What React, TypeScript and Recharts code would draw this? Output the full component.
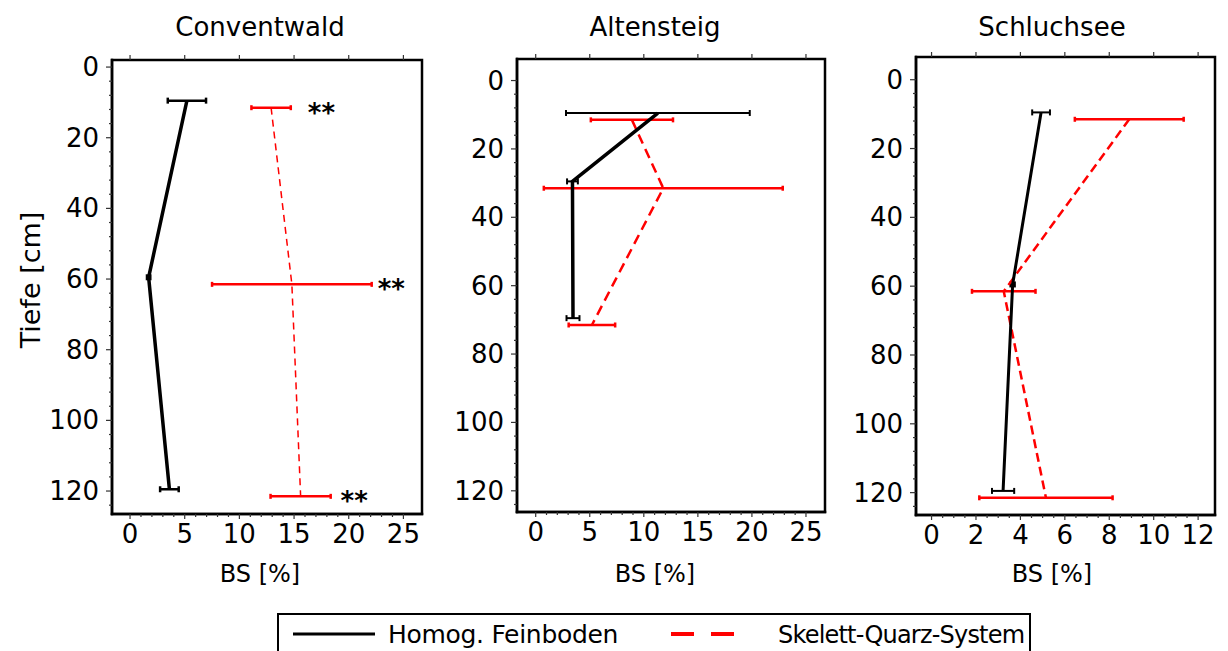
import { ScatterChart, Scatter, XAxis, YAxis, ErrorBar, ReferenceArea } from "recharts";

const FONT = "'DejaVu Sans', sans-serif";

// Conventwald: depth [cm], base saturation BS [%], half width of error bar
const cwFeinDepth = [9.5, 59.5, 119.5];
const cwFeinBs = [5.2, 1.7, 3.6];
const cwFeinErr = [1.75, 0.15, 0.85];
const cwSkelDepth = [11.5, 61.5, 121.5];
const cwSkelBs = [12.9, 14.8, 15.6];
const cwSkelErr = [1.8, 7.3, 2.75];
// significance marks next to the Skelett-Quarz values
const cwSigDepth = [11.5, 61.5, 121.5];
const cwSigBs = [17.5, 23.9, 20.5];
const cwSigText = ["**", "**", "**"];

// Altensteig
const alFeinDepth = [9.5, 29.5, 69.5];
const alFeinBs = [11.3, 3.4, 3.45];
const alFeinErr = [8.5, 0.5, 0.6];
const alSkelDepth = [11.5, 31.5, 71.5];
const alSkelBs = [8.9, 11.8, 5.2];
const alSkelErr = [3.8, 11.05, 2.15];

// Schluchsee
const scFeinDepth = [9.5, 59.5, 119.5];
const scFeinBs = [4.93, 3.65, 3.22];
const scFeinErr = [0.4, 0.1, 0.5];
const scSkelDepth = [11.5, 61.5, 121.5];
const scSkelBs = [8.9, 3.25, 5.15];
const scSkelErr = [2.45, 1.43, 3.0];

const depthTicks = [0, 20, 40, 60, 80, 100, 120];
const bsTicks25 = [0, 5, 10, 15, 20, 25];
const bsTicks12 = [0, 2, 4, 6, 8, 10, 12];

const titles = ["Conventwald", "Altensteig", "Schluchsee"];
const xLabel = "BS [%]";
const yLabel = "Tiefe [cm]";
const legendNames = ["Homog. Feinboden", "Skelett-Quarz-System"];

const rows = (depth: number[], bs: number[], err: number[]) =>
  depth.map((d, i) => ({ depth: d, bs: bs[i], err: err[i] }));

const steps = (from: number, to: number, step: number) => {
  const out: number[] = [];
  for (let v = from; v <= to + 1e-9; v += step) out.push(Math.round(v * 100) / 100);
  return out;
};

const frame = { stroke: "#000", strokeWidth: 2.5, strokeLinecap: "square" as const };

const BottomTick = (props: any) => {
  const { x, y, payload, majors } = props;
  const major = majors.includes(payload.value);
  return (
    <g>
      <line x1={x} x2={x} y1={y} y2={y + (major ? 5 : 3)} stroke="#333" strokeWidth={1.2} />
      {major && (
        <text x={x} y={y + 29} textAnchor="middle" fontSize={26} fontFamily={FONT} fill="#000">
          {payload.value}
        </text>
      )}
    </g>
  );
};

const TopTick = (props: any) => {
  const { x, y } = props;
  return <line x1={x} x2={x} y1={y} y2={y - 5} stroke="#333" strokeWidth={1.2} />;
};

const LeftTick = (props: any) => {
  const { x, y, payload, majors } = props;
  const major = majors.includes(payload.value);
  return (
    <g>
      <line x1={x} x2={x - (major ? 6 : 3)} y1={y} y2={y} stroke="#333" strokeWidth={1.2} />
      {major && (
        <text x={x - 13} y={y + 9} textAnchor="end" fontSize={26} fontFamily={FONT} fill="#000">
          {payload.value}
        </text>
      )}
    </g>
  );
};

const NoDot = () => <g />;

const SigMark = (props: any) => (
  <text
    x={props.cx}
    y={props.cy + 14}
    textAnchor="middle"
    fontSize={26}
    fontWeight="bold"
    fontFamily={FONT}
    fill="#000"
  >
    {props.payload.mark}
  </text>
);

type Row = { depth: number; bs: number; err: number };

type PanelCfg = {
  plot: { x: number; y: number; w: number; h: number };
  xDomain: [number, number];
  yDomain: [number, number];
  xMajor: number[];
  xMinorStep: number;
  fein: Row[];
  skel: Row[];
  sig?: { depth: number; bs: number; mark: string }[];
  feinWidth: number;
  feinErrWidth: number;
  skelWidth: number;
  skelDash: string;
};

const panels: PanelCfg[] = [
  {
    plot: { x: 112, y: 60, w: 310, h: 454 },
    xDomain: [-1.65, 26.7],
    yDomain: [-2, 126.5],
    xMajor: bsTicks25,
    xMinorStep: 1,
    fein: rows(cwFeinDepth, cwFeinBs, cwFeinErr),
    skel: rows(cwSkelDepth, cwSkelBs, cwSkelErr),
    sig: cwSigDepth.map((d, i) => ({ depth: d, bs: cwSigBs[i], mark: cwSigText[i] })),
    feinWidth: 3.5,
    feinErrWidth: 2.5,
    skelWidth: 1.5,
    skelDash: "7 5",
  },
  {
    plot: { x: 517, y: 59, w: 308, h: 453 },
    xDomain: [-1.73, 26.76],
    yDomain: [-6.3, 126.2],
    xMajor: bsTicks25,
    xMinorStep: 1,
    fein: rows(alFeinDepth, alFeinBs, alFeinErr),
    skel: rows(alSkelDepth, alSkelBs, alSkelErr),
    feinWidth: 3.5,
    feinErrWidth: 2,
    skelWidth: 2.5,
    skelDash: "10 6",
  },
  {
    plot: { x: 916, y: 57, w: 299, h: 458 },
    xDomain: [-0.7, 12.76],
    yDomain: [-6.6, 126.5],
    xMajor: bsTicks12,
    xMinorStep: 0.5,
    fein: rows(scFeinDepth, scFeinBs, scFeinErr),
    skel: rows(scSkelDepth, scSkelBs, scSkelErr),
    feinWidth: 3,
    feinErrWidth: 2,
    skelWidth: 2.5,
    skelDash: "9 5",
  },
];

const LEFT = 70;
const TOP = 40;

const Panel = ({ cfg }: { cfg: PanelCfg }) => {
  const { plot, xDomain, yDomain, xMajor } = cfg;
  const width = plot.w + LEFT + 10;
  const height = plot.y + plot.h - TOP + 60;
  const xTicks = steps(0, xMajor[xMajor.length - 1], cfg.xMinorStep);
  const yTicks = steps(0, 124, 4);
  return (
    <div style={{ position: "absolute", left: plot.x - LEFT, top: TOP }}>
      <ScatterChart
        width={width}
        height={height}
        margin={{ top: plot.y - TOP - 1, right: 9, bottom: 0, left: 0 }}
      >
        <XAxis
          xAxisId="b"
          type="number"
          dataKey="bs"
          orientation="bottom"
          domain={xDomain}
          allowDataOverflow
          ticks={xTicks}
          interval={0}
          tickSize={0}
          tickMargin={0}
          height={60}
          axisLine={frame}
          tickLine={false}
          tick={(p: any) => <BottomTick {...p} majors={xMajor} />}
        />
        <XAxis
          xAxisId="t"
          type="number"
          dataKey="bs"
          orientation="top"
          domain={xDomain}
          allowDataOverflow
          ticks={xMajor}
          interval={0}
          tickSize={0}
          tickMargin={0}
          height={1}
          axisLine={false}
          tickLine={false}
          tick={(p: any) => <TopTick {...p} />}
        />
        <YAxis
          yAxisId="l"
          type="number"
          dataKey="depth"
          orientation="left"
          reversed
          domain={yDomain}
          allowDataOverflow
          ticks={yTicks}
          interval={0}
          tickSize={0}
          tickMargin={0}
          width={LEFT}
          axisLine={frame}
          tickLine={false}
          tick={(p: any) => <LeftTick {...p} majors={depthTicks} />}
        />
        <YAxis
          yAxisId="r"
          type="number"
          dataKey="depth"
          orientation="right"
          reversed
          domain={yDomain}
          allowDataOverflow
          width={1}
          axisLine={false}
          tick={false}
          tickLine={false}
        />
        {/* plot frame */}
        <ReferenceArea
          xAxisId="b"
          yAxisId="l"
          x1={xDomain[0]}
          x2={xDomain[1]}
          y1={yDomain[0]}
          y2={yDomain[1]}
          fill="none"
          stroke="#000"
          strokeWidth={2.5}
          ifOverflow="visible"
        />
        {/* keeps the top and right axes bound to a series */}
        <Scatter
          xAxisId="t"
          yAxisId="r"
          data={cfg.fein}
          shape={NoDot}
          legendType="none"
          isAnimationActive={false}
        />
        <Scatter
          xAxisId="b"
          yAxisId="l"
          data={cfg.skel}
          shape={NoDot}
          line={{ stroke: "#ff0000", strokeWidth: cfg.skelWidth, strokeDasharray: cfg.skelDash }}
          isAnimationActive={false}
        >
          <ErrorBar
            dataKey="err"
            direction="x"
            width={2.5}
            stroke="#ff0000"
            strokeWidth={2.5}
            isAnimationActive={false}
          />
        </Scatter>
        <Scatter
          xAxisId="b"
          yAxisId="l"
          data={cfg.fein}
          shape={NoDot}
          line={{ stroke: "#000", strokeWidth: cfg.feinWidth }}
          isAnimationActive={false}
        >
          <ErrorBar
            dataKey="err"
            direction="x"
            width={3}
            stroke="#000"
            strokeWidth={cfg.feinErrWidth}
            isAnimationActive={false}
          />
        </Scatter>
        {cfg.sig && (
          <Scatter
            xAxisId="b"
            yAxisId="l"
            data={cfg.sig}
            shape={SigMark}
            isAnimationActive={false}
          />
        )}
      </ScatterChart>
    </div>
  );
};

const titlePos = [260, 655, 1052];

export default function App() {
  return (
    <div
      style={{
        position: "absolute",
        left: 0,
        top: 0,
        width: 1228,
        height: 651,
        background: "#fff",
        overflow: "hidden",
      }}
    >
      {panels.map((cfg, i) => (
        <Panel key={titles[i]} cfg={cfg} />
      ))}
      <svg
        width={1228}
        height={651}
        style={{ position: "absolute", left: 0, top: 0, pointerEvents: "none" }}
        fontFamily={FONT}
      >
        {titles.map((t, i) => (
          <text key={t} x={titlePos[i]} y={36} textAnchor="middle" fontSize={26} fill="#000">
            {t}
          </text>
        ))}
        {titlePos.map((x) => (
          <text key={x} x={x} y={582} textAnchor="middle" fontSize={24} fill="#000">
            {xLabel}
          </text>
        ))}
        <text
          x={40}
          y={280}
          textAnchor="middle"
          fontSize={27}
          fill="#000"
          transform="rotate(-90 40 280)"
        >
          {yLabel}
        </text>
        <rect x={278} y={614} width={752} height={48} fill="none" stroke="#000" strokeWidth={2} />
        <line x1={293} x2={375} y1={634} y2={634} stroke="#000" strokeWidth={3} />
        <text x={388} y={643} fontSize={25} letterSpacing={-0.3} fill="#000">
          {legendNames[0]}
        </text>
        <line
          x1={671}
          x2={734}
          y1={634}
          y2={634}
          stroke="#ff0000"
          strokeWidth={4}
          strokeDasharray="23 17"
        />
        <text x={778} y={643} fontSize={24} letterSpacing={-0.8} fill="#000">
          {legendNames[1]}
        </text>
      </svg>
    </div>
  );
}
